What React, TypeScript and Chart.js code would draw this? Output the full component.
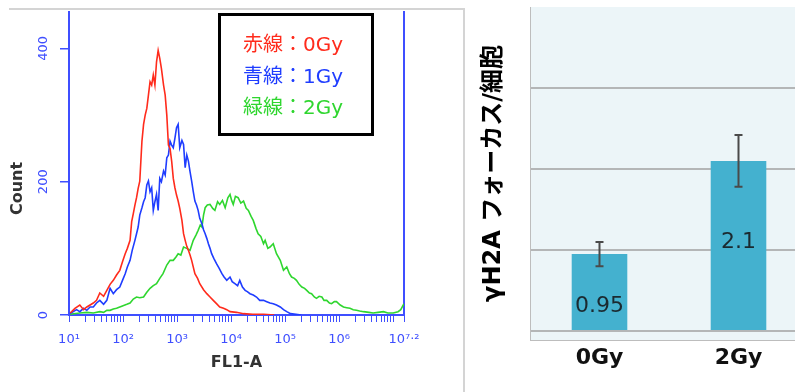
import React, { useEffect, useRef } from 'react';
import { Chart, registerables } from 'chart.js';

Chart.register(...registerables);

// ---------- Flow cytometry histogram data (x = log10 of FL1-A, y = Count) ----------
const seriesLabels = ['赤線：0Gy', '青線：1Gy', '緑線：2Gy'];

const redLogFL1 = [1.02, 1.05, 1.11, 1.2, 1.27, 1.33, 1.45, 1.51, 1.57, 1.64, 1.7, 1.76, 1.82, 1.88, 1.94, 1.99, 2.04, 2.08, 2.13, 2.16, 2.19, 2.22, 2.25, 2.28, 2.31, 2.35, 2.38, 2.41, 2.44, 2.47, 2.5, 2.53, 2.56, 2.59, 2.62, 2.65, 2.68, 2.71, 2.75, 2.78, 2.81, 2.84, 2.87, 2.9, 2.93, 2.96, 2.99, 3.02, 3.05, 3.09, 3.12, 3.15, 3.18, 3.21, 3.24, 3.27, 3.33, 3.38, 3.42, 3.49, 3.55, 3.61, 3.67, 3.73, 3.79, 3.86, 3.92, 3.98, 4.1, 4.23, 4.4, 4.6, 4.8];
const redCounts = [3, 5, 10, 15, 8, 12, 18, 22, 33, 28, 37, 46, 52, 60, 67, 80, 92, 100, 112, 140, 152, 165, 176, 190, 201, 261, 286, 300, 310, 330, 350, 345, 360, 345, 380, 397, 385, 370, 345, 330, 300, 255, 250, 231, 205, 191, 180, 171, 160, 142, 122, 112, 103, 97, 90, 82, 62, 55, 47, 38, 32, 27, 22, 17, 12, 10, 8, 5, 4, 2, 1, 1, 0];

const blueLogFL1 = [1.02, 1.08, 1.14, 1.2, 1.27, 1.33, 1.39, 1.45, 1.51, 1.57, 1.64, 1.7, 1.76, 1.82, 1.88, 1.94, 1.99, 2.04, 2.08, 2.13, 2.17, 2.22, 2.25, 2.28, 2.31, 2.35, 2.38, 2.41, 2.44, 2.47, 2.5, 2.53, 2.56, 2.59, 2.62, 2.65, 2.68, 2.71, 2.75, 2.78, 2.81, 2.84, 2.87, 2.9, 2.93, 2.96, 2.99, 3.02, 3.05, 3.09, 3.12, 3.15, 3.18, 3.21, 3.24, 3.27, 3.3, 3.33, 3.36, 3.39, 3.42, 3.46, 3.49, 3.52, 3.55, 3.58, 3.61, 3.64, 3.68, 3.73, 3.78, 3.83, 3.87, 3.92, 3.98, 4.02, 4.07, 4.12, 4.16, 4.21, 4.26, 4.3, 4.35, 4.41, 4.47, 4.53, 4.6, 4.66, 4.72, 4.78, 4.84, 4.91, 4.97, 5.03, 5.1, 5.2, 5.3];
const blueCounts = [2, 5, 8, 5, 10, 7, 12, 12, 18, 22, 16, 22, 40, 32, 38, 42, 52, 62, 72, 82, 97, 112, 122, 132, 150, 161, 170, 176, 195, 201, 185, 191, 157, 170, 181, 157, 205, 200, 216, 210, 236, 240, 261, 255, 251, 265, 281, 286, 251, 262, 256, 221, 240, 231, 215, 201, 185, 171, 165, 157, 145, 137, 128, 122, 115, 107, 100, 92, 85, 77, 70, 62, 57, 52, 57, 50, 47, 44, 52, 42, 37, 35, 32, 30, 27, 22, 22, 20, 18, 17, 15, 12, 8, 5, 2, 1, 0];

const greenLogFL1 = [1.02, 1.08, 1.2, 1.33, 1.45, 1.57, 1.64, 1.7, 1.76, 1.82, 1.88, 1.94, 2.0, 2.07, 2.13, 2.19, 2.25, 2.31, 2.38, 2.44, 2.5, 2.56, 2.62, 2.68, 2.74, 2.81, 2.87, 2.93, 2.98, 3.02, 3.07, 3.12, 3.18, 3.24, 3.3, 3.35, 3.39, 3.43, 3.46, 3.49, 3.52, 3.56, 3.61, 3.66, 3.7, 3.75, 3.79, 3.84, 3.89, 3.94, 3.98, 4.01, 4.04, 4.08, 4.13, 4.18, 4.23, 4.28, 4.32, 4.37, 4.41, 4.46, 4.5, 4.55, 4.6, 4.63, 4.68, 4.72, 4.78, 4.84, 4.91, 4.97, 5.03, 5.08, 5.12, 5.17, 5.21, 5.26, 5.31, 5.36, 5.4, 5.45, 5.49, 5.54, 5.58, 5.63, 5.68, 5.72, 5.77, 5.82, 5.86, 5.91, 5.95, 6.02, 6.08, 6.14, 6.2, 6.26, 6.32, 6.38, 6.45, 6.55, 6.63, 6.72, 6.82, 6.9, 7.0, 7.09, 7.14, 7.2];
const greenCounts = [1, 2, 3, 4, 3, 5, 4, 7, 7, 9, 10, 12, 14, 16, 18, 24, 27, 26, 27, 34, 40, 44, 47, 55, 62, 75, 82, 82, 87, 92, 90, 102, 100, 97, 112, 120, 127, 135, 132, 150, 161, 165, 166, 160, 157, 170, 166, 172, 161, 176, 181, 172, 166, 178, 176, 168, 171, 160, 157, 148, 142, 130, 122, 118, 107, 112, 100, 102, 107, 92, 82, 67, 72, 62, 57, 55, 52, 46, 42, 40, 37, 33, 32, 27, 25, 28, 27, 22, 22, 18, 17, 20, 20, 15, 12, 11, 10, 8, 7, 6, 5, 4, 3, 4, 5, 3, 3, 5, 8, 17];

const xTickExponents = [1, 2, 3, 4, 5, 6, 7.2];
const yTickCounts = [0, 200, 400];

// ---------- Bar chart data ----------
const barCategories = ['0Gy', '2Gy'];
const barValues = [0.95, 2.1];
const barErrors = [0.15, 0.32];
const barGridValues = [0, 1, 2, 3, 4];

// ---------- Styles ----------
const AXIS_BLUE = '#3f4fff';
const LINE_COLORS = ['#ff2b1c', '#1f3dff', '#2fd62f'];
const SANS = "'DejaVu Sans', 'Noto Sans CJK JP', sans-serif";
const LABEL_POS = [0.31, 0.52];

const SUP: Record<string, string> = {
  '0': '⁰', '1': '¹', '2': '²', '3': '³', '4': '⁴', '5': '⁵', '6': '⁶', '7': '⁷', '8': '⁸', '9': '⁹', '.': '·',
};
const supText = (s: string) => s.split('').map((c) => SUP[c] || c).join('');

const toPoints = (exps: number[], counts: number[]) =>
  exps.map((e, i) => ({ x: Math.pow(10, e), y: counts[i] }));

const legendBoxPlugin = {
  id: 'legendBox',
  afterDraw(chart: any) {
    const ctx = chart.ctx;
    ctx.save();
    ctx.fillStyle = '#ffffff';
    ctx.fillRect(219.5, 14.5, 153, 120);
    ctx.lineWidth = 3;
    ctx.strokeStyle = '#000000';
    ctx.strokeRect(219.5, 14.5, 153, 120);
    ctx.font = `20px ${SANS}`;
    ctx.textBaseline = 'middle';
    ctx.textAlign = 'left';
    chart.data.datasets.forEach((ds: any, i: number) => {
      ctx.fillStyle = ds.borderColor;
      ctx.fillText(ds.label, 243, 46 + i * 31.5);
    });
    ctx.restore();
  },
};

const barExtrasPlugin = {
  id: 'barExtras',
  beforeDraw(chart: any) {
    const { ctx, chartArea: a } = chart;
    ctx.save();
    ctx.fillStyle = '#ecf5f8';
    ctx.fillRect(a.left, a.top, a.right - a.left, a.bottom - a.top);
    ctx.restore();
  },
  afterDatasetsDraw(chart: any) {
    const ctx = chart.ctx;
    const yScale = chart.scales.y;
    const meta = chart.getDatasetMeta(0);
    ctx.save();
    meta.data.forEach((bar: any, i: number) => {
      const v = barValues[i];
      const e = barErrors[i];
      const top = yScale.getPixelForValue(v + e);
      const bot = yScale.getPixelForValue(v - e);
      ctx.strokeStyle = '#4a4a4a';
      ctx.lineWidth = 2;
      ctx.beginPath();
      ctx.moveTo(bar.x, top);
      ctx.lineTo(bar.x, bot);
      ctx.moveTo(bar.x - 4, top);
      ctx.lineTo(bar.x + 4, top);
      ctx.moveTo(bar.x - 4, bot);
      ctx.lineTo(bar.x + 4, bot);
      ctx.stroke();
      const ly = bar.base - (bar.base - bar.y) * LABEL_POS[i];
      ctx.fillStyle = '#1b2a30';
      ctx.font = `22px ${SANS}`;
      ctx.textAlign = 'center';
      ctx.textBaseline = 'middle';
      ctx.fillText(String(v), bar.x, ly);
    });
    ctx.restore();
  },
};

function HistogramChart() {
  const ref = useRef<HTMLCanvasElement>(null);
  useEffect(() => {
    if (!ref.current) return;
    const xMax = Math.pow(10, 7.2);
    const chart = new Chart(ref.current, {
      type: 'line',
      data: {
        datasets: [
          { label: seriesLabels[0], data: toPoints(redLogFL1, redCounts), borderColor: LINE_COLORS[0] },
          { label: seriesLabels[1], data: toPoints(blueLogFL1, blueCounts), borderColor: LINE_COLORS[1] },
          { label: seriesLabels[2], data: toPoints(greenLogFL1, greenCounts), borderColor: LINE_COLORS[2] },
        ].map((d) => ({ ...d, borderWidth: 1.6, pointRadius: 0, fill: false, tension: 0 })) as any,
      },
      options: {
        responsive: false,
        animation: false,
        events: [],
        layout: { padding: { top: 10, left: 0, right: 0, bottom: 0 } },
        plugins: { legend: { display: false }, tooltip: { enabled: false } },
        scales: {
          x: {
            type: 'logarithmic',
            position: 'bottom',
            min: 10,
            max: xMax,
            z: 1,
            afterBuildTicks: (scale: any) => {
              const t: any[] = [];
              for (let k = 1; k <= 7; k++) {
                for (let m = 1; m <= 9; m++) {
                  const v = m * Math.pow(10, k);
                  if (v <= xMax) t.push({ value: v, major: m === 1 });
                }
              }
              t.push({ value: xMax, major: true });
              scale.ticks = t;
            },
            afterFit: (scale: any) => { scale.height = 77; },
            ticks: {
              autoSkip: false,
              maxRotation: 0,
              minRotation: 0,
              color: AXIS_BLUE,
              padding: 10,
              font: { family: SANS, size: 13 },
              callback: (value: any) => {
                const e = Math.log10(Number(value));
                const hit = xTickExponents.find((x) => Math.abs(x - e) < 1e-6);
                return hit === undefined ? '' : '10' + supText(String(hit));
              },
            },
            grid: { drawOnChartArea: false, drawTicks: true, tickLength: 7, color: AXIS_BLUE, lineWidth: 1 },
            border: { color: AXIS_BLUE, width: 2 },
            title: {
              display: true,
              text: 'FL1-A',
              color: '#333333',
              font: { family: SANS, size: 16, weight: 'bold' },
              padding: { top: 0, bottom: 20 },
            },
          },
          y: {
            type: 'linear',
            position: 'left',
            min: 0,
            max: 455,
            afterBuildTicks: (scale: any) => { scale.ticks = yTickCounts.map((v) => ({ value: v })); },
            afterFit: (scale: any) => { scale.width = 69; },
            ticks: {
              color: AXIS_BLUE,
              minRotation: 90,
              maxRotation: 90,
              crossAlign: 'center',
              padding: 4,
              font: { family: SANS, size: 13 },
            },
            grid: { drawOnChartArea: false, drawTicks: true, tickLength: 9, color: AXIS_BLUE, lineWidth: 1.5 },
            border: { color: AXIS_BLUE, width: 2 },
            title: {
              display: true,
              text: 'Count         ',
              color: '#333333',
              font: { family: SANS, size: 16, weight: 'bold' },
              padding: { top: 8, bottom: 0 },
            },
          },
          yRight: {
            type: 'linear',
            position: 'right',
            display: true,
            min: 0,
            max: 455,
            afterFit: (scale: any) => { scale.width = 60; },
            ticks: { display: false },
            grid: { display: false, drawTicks: false },
            border: { color: AXIS_BLUE, width: 2 },
          },
        },
      } as any,
      plugins: [legendBoxPlugin],
    });
    return () => chart.destroy();
  }, []);
  return <canvas ref={ref} width={464} height={392} style={{ position: 'absolute', left: 0, top: 0 }} />;
}

function BarChart() {
  const ref = useRef<HTMLCanvasElement>(null);
  useEffect(() => {
    if (!ref.current) return;
    const chart = new Chart(ref.current, {
      type: 'bar',
      data: {
        labels: barCategories,
        datasets: [
          {
            data: barValues,
            backgroundColor: '#44b1cf',
            borderWidth: 0,
            barPercentage: 0.4,
            categoryPercentage: 1.0,
          },
        ],
      },
      options: {
        responsive: false,
        animation: false,
        events: [],
        layout: { padding: { top: 7, left: 0, right: 0, bottom: 0 } },
        plugins: { legend: { display: false }, tooltip: { enabled: false } },
        scales: {
          x: {
            afterFit: (scale: any) => { scale.height = 52; },
            grid: { display: false, drawTicks: false },
            border: { color: '#bdbdbd', width: 1 },
            ticks: {
              color: '#111111',
              padding: 5,
              font: { family: SANS, size: 22, weight: 'bold' },
            },
          },
          y: {
            min: -0.11,
            max: 4,
            afterBuildTicks: (scale: any) => { scale.ticks = barGridValues.map((v) => ({ value: v })); },
            afterFit: (scale: any) => { scale.width = 60; },
            ticks: { display: false },
            grid: {
              drawTicks: false,
              lineWidth: 2,
              color: (c: any) => (c.tick && c.tick.value === 4 ? 'rgba(0,0,0,0)' : '#b4b6b7'),
            },
            border: { color: '#bdbdbd', width: 1 },
            title: {
              display: true,
              text: 'γH2A フォーカス/細胞',
              color: '#000000',
              font: { family: SANS, size: 24, weight: 'bold' },
              padding: { top: 9, bottom: 0 },
            },
          },
        },
      } as any,
      plugins: [barExtrasPlugin],
    });
    return () => chart.destroy();
  }, []);
  return (
    <div style={{ position: 'absolute', left: 470, top: 0, width: 325, height: 392, overflow: 'hidden' }}>
      <canvas ref={ref} width={338} height={392} style={{ position: 'absolute', left: 0, top: 0 }} />
    </div>
  );
}

export default function App() {
  return (
    <div style={{ position: 'fixed', left: 0, top: 0, width: 795, height: 392, background: '#ffffff', overflow: 'hidden' }}>
      <div
        style={{
          position: 'absolute',
          left: 9,
          top: 8,
          width: 454,
          height: 384,
          borderTop: '2px solid #d4d4d4',
          borderRight: '2px solid #d4d4d4',
        }}
      />
      <HistogramChart />
      <BarChart />
    </div>
  );
}
